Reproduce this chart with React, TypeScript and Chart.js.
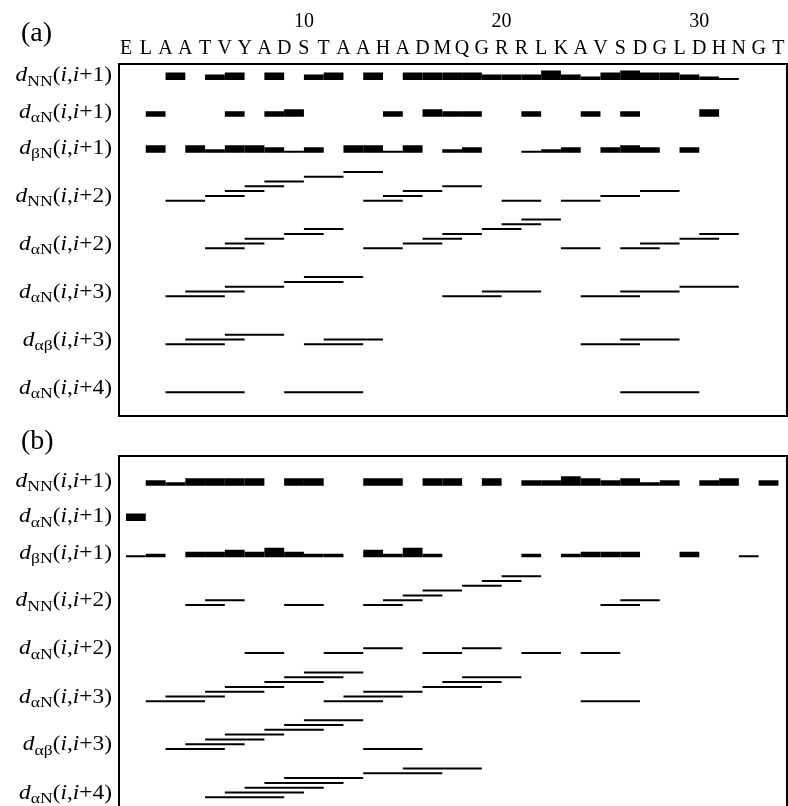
import React, { useEffect, useRef } from "react";
import { Chart, registerables } from "chart.js";

Chart.register(...registerables);

// ---------------- data ----------------
const SEQUENCE = ["E","L","A","A","T","V","Y","A","D","S","T","A","A","H","A","D","M","Q","G","R","R","L","K","A","V","S","D","G","L","D","H","N","G","T"];
const SEQ_NUMBERS = [10, 20, 30];

// Sequential NOEs d(i,i+1): [residue i, intensity class 1 (weak) .. 5 (very strong)]
const A_NN_1 = [[3,4],[5,3],[6,4],[8,4],[10,3],[11,4],[13,4],[15,4],[16,4],[17,4],[18,4],[19,3],[20,3],[21,3],[22,5],[23,3],[24,2],[25,4],[26,5],[27,4],[28,4],[29,3],[30,2],[31,1]];
const A_AN_1 = [[2,3],[6,3],[8,3],[9,4],[14,3],[16,4],[17,3],[18,3],[21,3],[24,3],[26,3],[30,4]];
const A_BN_1 = [[2,4],[4,4],[5,2],[6,4],[7,4],[8,3],[9,1],[10,3],[12,4],[13,4],[14,1],[15,4],[17,2],[18,3],[21,1],[22,2],[23,3],[25,3],[26,4],[27,3],[29,3]];
// Medium-range NOEs: first residue i of each d(i,i+k)
const A_NN_2 = [3,5,6,7,8,10,12,13,14,15,17,20,23,25,27];
const A_AN_2 = [5,6,7,9,10,13,15,16,17,19,20,21,23,26,27,29,30];
const A_AN_3 = [3,4,6,9,10,17,19,24,26,29];
const A_AB_3 = [3,4,6,10,11,24,26];
const A_AN_4 = [3,9,26];

const B_NN_1 = [[2,3],[3,2],[4,4],[5,4],[6,4],[7,4],[9,4],[10,4],[13,4],[14,4],[16,4],[17,4],[19,4],[21,3],[22,3],[23,5],[24,4],[25,3],[26,4],[27,2],[28,3],[30,3],[31,4],[33,3]];
const B_AN_1 = [[1,4]];
const B_BN_1 = [[1,1],[2,2],[4,3],[5,3],[6,4],[7,3],[8,5],[9,3],[10,2],[11,2],[13,4],[14,2],[15,5],[16,2],[21,2],[23,2],[24,3],[25,3],[26,3],[29,3],[32,1]];
const B_NN_2 = [4,5,9,13,14,15,16,18,19,20,25,26];
const B_AN_2 = [7,11,13,16,18,21,24];
const B_AN_3 = [2,3,5,6,8,9,10,11,12,13,16,17,18,24];
const B_AB_3 = [3,4,5,6,8,9,10,13];
const B_AN_4 = [5,6,7,8,9,13,15];

// ---------------- layout / style ----------------
const SERIF = '"Liberation Serif", "Times New Roman", serif';
const W = 788;
const X_PER_RES = 19.77;
const AREA_LEFT = 119;
const AREA_RIGHT = 787;
const X_MIN = 1 - (126 - AREA_LEFT) / X_PER_RES;
const X_MAX = X_MIN + (AREA_RIGHT - AREA_LEFT) / X_PER_RES;
const BAR_PX = [0, 2, 3.5, 5.5, 7.5, 9.5];
const LINE_PX = 2;
const LEVEL_STEP = 4.8;
const MAX_LEVELS = 7;
const LABEL_RIGHT = 112;
const LABEL_SIZE = 20;
const SUB_SIZE = 15;
const SUB_DY = 4.5;
const LABEL_STRETCH = 1.17;

type RowSpec = { sub: string; k: number; bars?: number[][]; starts?: number[] };

const ROWS_A: RowSpec[] = [
  { sub: "NN", k: 1, bars: A_NN_1 },
  { sub: "αN", k: 1, bars: A_AN_1 },
  { sub: "βN", k: 1, bars: A_BN_1 },
  { sub: "NN", k: 2, starts: A_NN_2 },
  { sub: "αN", k: 2, starts: A_AN_2 },
  { sub: "αN", k: 3, starts: A_AN_3 },
  { sub: "αβ", k: 3, starts: A_AB_3 },
  { sub: "αN", k: 4, starts: A_AN_4 },
];
const ROWS_B: RowSpec[] = [
  { sub: "NN", k: 1, bars: B_NN_1 },
  { sub: "αN", k: 1, bars: B_AN_1 },
  { sub: "βN", k: 1, bars: B_BN_1 },
  { sub: "NN", k: 2, starts: B_NN_2 },
  { sub: "αN", k: 2, starts: B_AN_2 },
  { sub: "αN", k: 3, starts: B_AN_3 },
  { sub: "αβ", k: 3, starts: B_AB_3 },
  { sub: "αN", k: 4, starts: B_AN_4 },
];
const ROW_Y_A = [80, 116.7, 152.7, 200.7, 248.3, 296.3, 344.3, 392.3];
const ROW_Y_B = [485.7, 521, 557.3, 605, 653, 701.3, 749, 797.3];

function stackLevels(starts: number[], k: number): number[] {
  const out: number[] = [];
  let lvl = 0;
  let prevEnd = -Infinity;
  starts.forEach((s, j) => {
    lvl = j > 0 && s <= prevEnd ? (lvl + 1) % MAX_LEVELS : 0;
    out.push(lvl);
    prevEnd = s + k;
  });
  return out;
}

function buildDatasets(rows: RowSpec[], rowY: number[]) {
  const common = {
    backgroundColor: "#000",
    borderWidth: 0,
    borderSkipped: false,
    grouped: false,
    inflateAmount: 0,
  };
  const byClass = new Map<number, any[]>();
  const lines: any[] = [];
  rows.forEach((row, r) => {
    if (row.bars) {
      row.bars.forEach(([i, c]) => {
        const t = BAR_PX[c];
        if (!byClass.has(c)) byClass.set(c, []);
        byClass.get(c)!.push({ x: [i, i + 1], y: rowY[r] - t / 2 });
      });
    }
    if (row.starts) {
      const lv = stackLevels(row.starts, row.k);
      row.starts.forEach((i, j) => {
        lines.push({ x: [i, i + row.k], y: rowY[r] - lv[j] * LEVEL_STEP });
      });
    }
  });
  const ds: any[] = [];
  Array.from(byClass.keys()).sort().forEach((c) => {
    ds.push({ label: "d(i,i+1) class " + c, data: byClass.get(c), barThickness: BAR_PX[c], ...common });
  });
  ds.push({ label: "medium-range", data: lines, barThickness: LINE_PX, ...common });
  return ds;
}

function labelPlugin(rows: RowSpec[], rowY: number[]) {
  return {
    id: "rowLabels",
    afterDraw(chart: any) {
      const ctx = chart.ctx as CanvasRenderingContext2D;
      const ys = chart.scales.y;
      ctx.save();
      ctx.fillStyle = "#000";
      ctx.textBaseline = "alphabetic";
      ctx.textAlign = "left";
      const normal = `${LABEL_SIZE}px ${SERIF}`;
      const italic = `italic ${LABEL_SIZE}px ${SERIF}`;
      const small = `${SUB_SIZE}px ${SERIF}`;
      rows.forEach((row, r) => {
        const base = ys.getPixelForValue(rowY[r]) + 1.2;
        const parts = [
          { t: "d", f: italic, dy: 0 },
          { t: row.sub, f: small, dy: SUB_DY },
          { t: "(", f: normal, dy: 0 },
          { t: "i", f: italic, dy: 0 },
          { t: ",", f: normal, dy: 0 },
          { t: "i", f: italic, dy: 0 },
          { t: "+" + row.k + ")", f: normal, dy: 0 },
        ];
        let w = 0;
        parts.forEach((p) => { ctx.font = p.f; w += ctx.measureText(p.t).width; });
        ctx.save();
        ctx.translate(LABEL_RIGHT - w * LABEL_STRETCH, 0);
        ctx.scale(LABEL_STRETCH, 1);
        let x = 0;
        parts.forEach((p) => {
          ctx.font = p.f;
          ctx.fillText(p.t, x, base + p.dy);
          x += ctx.measureText(p.t).width;
        });
        ctx.restore();
      });
      ctx.restore();
    },
  };
}

type PanelProps = {
  top: number;
  height: number;
  areaTop: number;
  areaBottom: number;
  rows: RowSpec[];
  rowY: number[];
  withSequence: boolean;
  bottomBorder: boolean;
};

function Panel({ top, height, areaTop, areaBottom, rows, rowY, withSequence, bottomBorder }: PanelProps) {
  const ref = useRef<HTMLCanvasElement | null>(null);
  useEffect(() => {
    if (!ref.current) return;
    const border = { display: true, color: "#000", width: 2 };
    const noGrid = { display: false, drawTicks: false };
    const tickFont = { family: SERIF, size: 20 };
    const scales: any = {};
    if (withSequence) {
      scales.x = {
        type: "linear", position: "top", min: X_MIN, max: X_MAX, weight: 0, offset: false,
        grid: noGrid, border,
        ticks: {
          autoSkip: false, maxRotation: 0, minRotation: 0, padding: 3.5, color: "#000", font: tickFont,
          callback: (_v: any, i: number) => SEQUENCE[i],
        },
        afterBuildTicks: (axis: any) => { axis.ticks = SEQUENCE.map((_, i) => ({ value: i + 1 })); },
        afterFit: (s: any) => { s.height = 30; },
      };
      scales.xNum = {
        type: "linear", position: "top", axis: "x", min: X_MIN, max: X_MAX, weight: 1,
        grid: noGrid, border: { display: false },
        ticks: {
          autoSkip: false, maxRotation: 0, minRotation: 0, padding: 0.5, color: "#000", font: tickFont,
          callback: (v: any) => String(v),
        },
        afterBuildTicks: (axis: any) => { axis.ticks = SEQ_NUMBERS.map((v) => ({ value: v })); },
        afterFit: (s: any) => { s.height = (areaTop - top) - 30; },
      };
    } else {
      scales.x = {
        type: "linear", position: "top", min: X_MIN, max: X_MAX, offset: false,
        grid: noGrid, border, ticks: { display: false },
        afterFit: (s: any) => { s.height = areaTop - top; },
      };
    }
    if (bottomBorder) {
      scales.xBottom = {
        type: "linear", position: "bottom", axis: "x", min: X_MIN, max: X_MAX,
        grid: noGrid, border, ticks: { display: false },
        afterFit: (s: any) => { s.height = top + height - areaBottom; },
      };
    }
    scales.y = {
      type: "linear", position: "left", reverse: true, min: areaTop, max: areaBottom, offset: false,
      grid: noGrid, border, ticks: { display: false },
      afterFit: (s: any) => { s.width = AREA_LEFT; },
    };
    scales.yRight = {
      type: "linear", position: "right", axis: "y", min: 0, max: 1,
      grid: noGrid, border, ticks: { display: false },
      afterFit: (s: any) => { s.width = W - AREA_RIGHT; },
    };

    const chart = new Chart(ref.current, {
      type: "bar",
      data: { datasets: buildDatasets(rows, rowY) },
      options: {
        indexAxis: "y",
        animation: false,
        responsive: false,
        devicePixelRatio: 1,
        events: [],
        layout: { padding: 0, autoPadding: false },
        plugins: { legend: { display: false }, tooltip: { enabled: false } },
        scales,
      } as any,
      plugins: [labelPlugin(rows, rowY)],
    });
    return () => chart.destroy();
  }, []);
  return (
    <canvas
      ref={ref}
      width={W}
      height={height}
      style={{ position: "absolute", left: 0, top, width: W, height }}
    />
  );
}

export default function App() {
  const panelLabel: React.CSSProperties = {
    position: "absolute",
    left: 21,
    font: `28px ${SERIF}`,
    lineHeight: "28px",
    color: "#000",
  };
  return (
    <div style={{ position: "fixed", left: 0, top: 0, width: W, height: 806, overflow: "hidden", background: "#fff" }}>
      <Panel top={0} height={420} areaTop={64} areaBottom={416.3} rows={ROWS_A} rowY={ROW_Y_A} withSequence={true} bottomBorder={true} />
      <Panel top={420} height={386} areaTop={455.7} areaBottom={806} rows={ROWS_B} rowY={ROW_Y_B} withSequence={false} bottomBorder={false} />
      <div style={{ ...panelLabel, top: 18.3 }}>(a)</div>
      <div style={{ ...panelLabel, top: 426.3 }}>(b)</div>
    </div>
  );
}
